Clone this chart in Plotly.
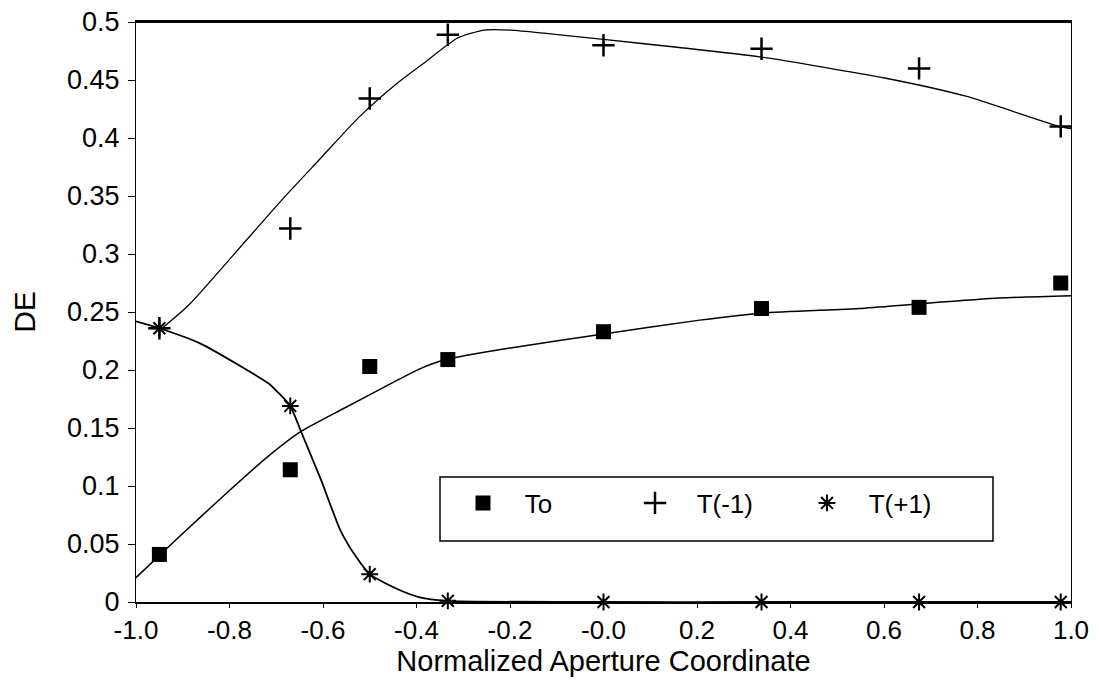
import plotly.graph_objects as go

# ---- data ----
x_pts = [-0.95, -0.67, -0.50, -0.333, 0.0, 0.338, 0.675, 0.978]
to_vals = [0.041, 0.114, 0.203, 0.209, 0.233, 0.253, 0.254, 0.275]
tm1_vals = [0.236, 0.322, 0.434, 0.489, 0.480, 0.477, 0.460, 0.410]
tp1_vals = [0.236, 0.169, 0.024, 0.001, 0.0, 0.0, 0.0, 0.0]

# fitted curves
to_fit_x = [-1.0, -0.911, -0.806, -0.725, -0.647, -0.555, -0.442, -0.393, -0.337,
            -0.199, 0.0, 0.206, 0.338, 0.547, 0.674, 0.846, 1.0]
to_fit_y = [0.021, 0.055, 0.094, 0.123, 0.147, 0.167, 0.191, 0.201, 0.209,
            0.219, 0.231, 0.243, 0.249, 0.253, 0.257, 0.262, 0.264]

tm1_fit_x = [-0.95, -0.887, -0.766, -0.685, -0.604, -0.523, -0.442, -0.386, -0.313,
             -0.256, -0.199, -0.118, 0.0, 0.162, 0.334, 0.604, 0.775, 0.974, 1.0]
tm1_fit_y = [0.234, 0.256, 0.311, 0.348, 0.383, 0.418, 0.447, 0.464, 0.486,
             0.493, 0.493, 0.490, 0.485, 0.478, 0.470, 0.4515, 0.436, 0.410, 0.408]

tp1_fit_x = [-1.0, -0.95, -0.863, -0.717, -0.697, -0.67, -0.647, -0.604, -0.563,
             -0.531, -0.50, -0.44, -0.393, -0.337, 0.0, 0.338, 0.675, 1.0]
tp1_fit_y = [0.242, 0.236, 0.223, 0.1885, 0.181, 0.169, 0.147, 0.105, 0.062,
             0.040, 0.024, 0.011, 0.004, 0.001, 0.0, 0.0, 0.0, 0.0]

x_tickvals = [-1.0, -0.8, -0.6, -0.4, -0.2, 0.0, 0.2, 0.4, 0.6, 0.8, 1.0]
x_ticktext = ["-1.0", "-0.8", "-0.6", "-0.4", "-0.2", "-0.0", "0.2", "0.4", "0.6", "0.8", "1.0"]
y_tickvals = [0, 0.05, 0.1, 0.15, 0.2, 0.25, 0.3, 0.35, 0.4, 0.45, 0.5]
y_ticktext = ["0", "0.05", "0.1", "0.15", "0.2", "0.25", "0.3", "0.35", "0.4", "0.45", "0.5"]

series_names = ["To", "T(-1)", "T(+1)"]

FONT = "Liberation Sans, Arial, Helvetica, sans-serif"
NB = "\u00a0" * 3

fig = go.Figure()

# fitted lines
fig.add_trace(go.Scatter(x=to_fit_x, y=to_fit_y, mode="lines", showlegend=False,
                         line=dict(color="black", width=1.5, shape="spline", smoothing=0.6),
                         hoverinfo="skip"))
fig.add_trace(go.Scatter(x=tm1_fit_x, y=tm1_fit_y, mode="lines", showlegend=False,
                         line=dict(color="black", width=1.3, shape="spline", smoothing=0.6),
                         hoverinfo="skip"))
fig.add_trace(go.Scatter(x=tp1_fit_x, y=tp1_fit_y, mode="lines", showlegend=False,
                         line=dict(color="black", width=1.8, shape="spline", smoothing=0.6),
                         hoverinfo="skip"))

# markers
fig.add_trace(go.Scatter(x=x_pts, y=to_vals, mode="markers", name=NB + series_names[0],
                         marker=dict(symbol="square", size=15, color="black"),
                         cliponaxis=False))
fig.add_trace(go.Scatter(x=x_pts, y=tm1_vals, mode="markers", name=NB + series_names[1],
                         marker=dict(symbol="cross-thin-open", size=16, color="black",
                                     line=dict(color="black", width=2.5)),
                         cliponaxis=False))
fig.add_trace(go.Scatter(x=x_pts, y=tp1_vals, mode="markers", name=NB + series_names[2],
                         marker=dict(symbol="asterisk-open", size=14, color="black",
                                     line=dict(color="black", width=2)),
                         cliponaxis=False))

# the page body has an 8px margin, so the figure sits at (8, 8) in the window
OFF = 8
W, H = 1099 - OFF, 688 - OFF
# plot area in window pixels
PX_L, PX_R, PX_T, PX_B = 136, 1071, 22, 602
L, R, T, B = PX_L - OFF, W - (PX_R - OFF), PX_T - OFF, H - (PX_B - OFF)
pw, ph = PX_R - PX_L, PX_B - PX_T

def px_to_paper_x(px):
    return (px - PX_L) / pw

def px_to_paper_y(py):
    return (PX_B - py) / ph

fig.update_layout(
    width=W, height=H,
    margin=dict(l=L, r=R, t=T, b=B, autoexpand=False),
    paper_bgcolor="white", plot_bgcolor="white",
    font=dict(family=FONT, size=27, color="black"),
    showlegend=True,
    legend=dict(orientation="h", x=px_to_paper_x(463), xanchor="left",
                y=px_to_paper_y(503), yanchor="middle",
                bgcolor="rgba(0,0,0,0)", borderwidth=0,
                font=dict(family=FONT, size=26, color="black"),
                entrywidth=127, entrywidthmode="pixels"),
    shapes=[
        dict(type="rect", xref="paper", yref="paper",
             x0=px_to_paper_x(440), x1=px_to_paper_x(993),
             y0=px_to_paper_y(541), y1=px_to_paper_y(477),
             line=dict(color="black", width=1.5), fillcolor="rgba(0,0,0,0)"),
        # top frame line of the plot box
        dict(type="line", xref="paper", yref="paper", x0=0, x1=1, y0=1, y1=1,
             line=dict(color="black", width=2.2)),
    ],
    xaxis=dict(range=[-1.0, 1.0], tickvals=x_tickvals, ticktext=x_ticktext,
               showgrid=False, zeroline=False,
               showline=True, linecolor="black", linewidth=2.2, mirror=True,
               ticks="outside", ticklen=4, tickwidth=1.2, tickcolor="black",
               ticklabeloverflow="allow",
               tickfont=dict(family=FONT, size=26),
               title=dict(text="Normalized Aperture Coordinate",
                          font=dict(family=FONT, size=29), standoff=4)),
    yaxis=dict(range=[0, 0.5], tickvals=y_tickvals, ticktext=y_ticktext,
               showgrid=False, zeroline=False,
               showline=True, linecolor="black", linewidth=1.3, mirror=True,
               ticks="outside", ticklen=7, tickwidth=1.3, tickcolor="black",
               ticklabelstandoff=3, ticklabeloverflow="allow",
               tickfont=dict(family=FONT, size=27),
               title=dict(text="DE", font=dict(family=FONT, size=30), standoff=24)),
)

fig.write_html("out.html")
